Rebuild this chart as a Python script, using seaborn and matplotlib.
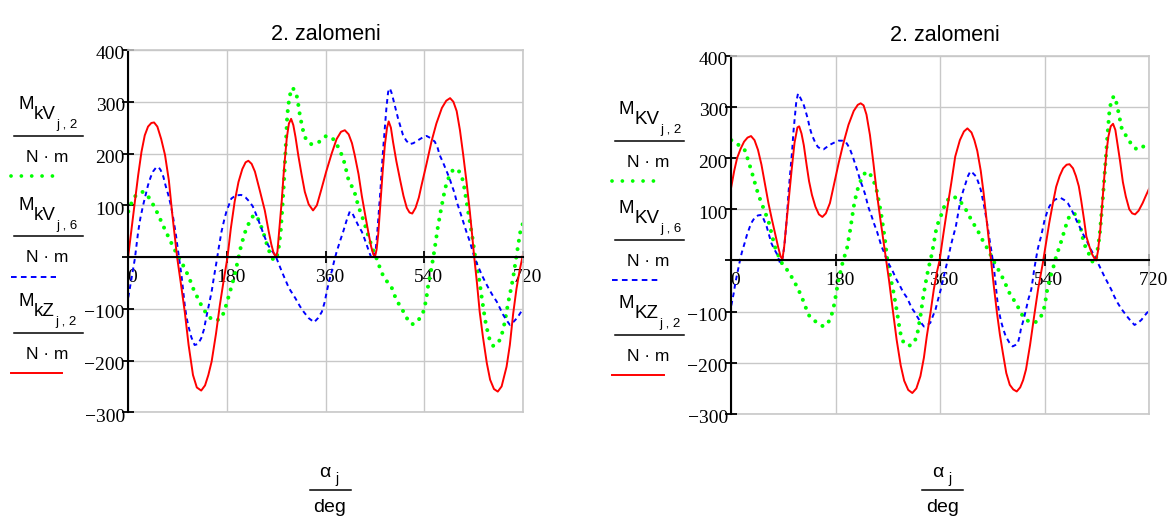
import matplotlib
matplotlib.use("Agg")
import matplotlib.pyplot as plt
import seaborn as sns
from matplotlib.lines import Line2D
from matplotlib.transforms import ScaledTranslation

# ---------------- data ----------------
TITLE = "2. zalomeni"
X_TICKS = [0, 180, 360, 540, 720]
X_TICK_LABELS = ["0", "180", "360", "540", "720"]
Y_TICKS = [-300, -200, -100, 0, 100, 200, 300, 400]
Y_TICK_LABELS = ["\u2212300", "\u2212200", "\u2212100", "", "100", "200", "300", "400"]

# left chart
L_GREEN_X = [0, 6, 12, 20, 27, 33, 39, 47, 55, 62, 70, 79, 88, 96, 103, 111, 118, 127, 136, 145, 154, 162, 170, 176, 182, 188, 194, 200, 206, 213, 221, 228, 233, 237, 242, 246, 250, 255, 260, 265, 270, 274, 278, 281, 284, 287, 290, 294, 299, 303, 307, 310, 313, 318, 322, 328, 334, 341, 349, 355, 361, 368, 376, 384, 392, 397, 401, 406, 412, 420, 430, 438, 446, 453, 462, 470, 479, 489, 499, 508, 517, 524, 529, 534, 538, 543, 547, 553, 559, 565, 571, 578, 584, 593, 598, 603, 607, 611, 617, 623, 628, 634, 639, 645, 651, 657, 661, 666, 672, 678, 684, 688, 693, 698, 702, 706, 710, 716, 720]
L_GREEN_Y = [88, 105, 117, 124, 126, 121, 113, 98, 81, 64, 46, 26, 7, -8, -22, -40, -60, -80, -99, -113, -122, -122, -118, -102, -80, -58, -35, -6, 23, 48, 68, 80, 81, 73, 60, 49, 34, 17, 3, -6, -4, 15, 49, 95, 145, 210, 275, 310, 327, 323, 313, 295, 274, 248, 232, 222, 218, 219, 223, 229, 234, 232, 226, 210, 191, 170, 152, 140, 128, 97, 68, 40, 15, -3, -30, -45, -55, -83, -100, -118, -130, -128, -122, -115, -106, -85, -55, -22, 17, 60, 95, 133, 152, 170, 170, 166, 158, 146, 107, 68, 36, -9, -35, -80, -122, -152, -165, -172, -168, -160, -140, -118, -88, -62, -40, -12, 15, 55, 65]

L_BLUE_X = [0, 6, 12, 18, 22, 27, 32, 36, 41, 45, 50, 55, 59, 64, 68, 73, 78, 82, 87, 91, 94, 97, 100, 103, 106, 109, 115, 121, 127, 133, 138, 142, 147, 152, 156, 161, 165, 170, 175, 179, 184, 188, 196, 206, 214, 221, 227, 231, 237, 243, 249, 255, 262, 268, 274, 280, 287, 293, 299, 305, 313, 320, 329, 339, 346, 353, 358, 362, 366, 371, 375, 380, 386, 392, 398, 404, 409, 413, 419, 426, 431, 435, 440, 444, 448, 451, 454, 457, 460, 462, 465, 468, 471, 474, 477, 480, 483, 488, 492, 497, 501, 507, 513, 520, 529, 537, 544, 551, 559, 564, 568, 574, 581, 586, 590, 595, 599, 605, 611, 617, 623, 628, 632, 638, 645, 651, 657, 664, 672, 678, 684, 690, 696, 702, 709, 714, 720]
L_BLUE_Y = [-78, -41, -3, 49, 75, 100, 122, 139, 155, 165, 172, 174, 168, 155, 138, 120, 98, 75, 42, 10, -12, -35, -65, -93, -115, -131, -155, -170, -168, -157, -140, -118, -93, -67, -40, -9, 18, 49, 72, 88, 102, 113, 119, 120, 115, 107, 98, 88, 72, 55, 38, 23, 12, 4, -12, -28, -45, -60, -70, -80, -95, -106, -118, -126, -118, -106, -88, -67, -48, -28, -10, 10, 30, 49, 70, 88, 84, 75, 62, 49, 35, 23, 8, -3, 0, 10, 45, 88, 130, 165, 210, 249, 290, 319, 326, 318, 306, 285, 268, 250, 236, 225, 218, 220, 226, 231, 234, 230, 223, 212, 197, 183, 165, 152, 139, 124, 107, 88, 68, 48, 30, 12, -3, -18, -35, -48, -60, -73, -86, -99, -112, -122, -131, -126, -118, -110, -100]

L_RED_X = [0, 6, 12, 18, 24, 30, 36, 42, 47, 53, 60, 67, 74, 80, 85, 89, 96, 103, 110, 118, 125, 133, 140, 146, 152, 160, 167, 174, 181, 187, 194, 201, 208, 214, 219, 225, 231, 240, 249, 256, 261, 265, 269, 272, 276, 280, 284, 289, 293, 297, 301, 305, 310, 316, 322, 329, 337, 344, 352, 361, 371, 380, 388, 395, 402, 408, 413, 420, 426, 432, 438, 443, 447, 450, 453, 456, 460, 464, 468, 472, 475, 479, 483, 489, 496, 502, 508, 513, 518, 524, 530, 535, 544, 553, 562, 572, 580, 587, 593, 599, 605, 611, 617, 623, 627, 631, 636, 641, 647, 654, 660, 667, 674, 681, 690, 696, 702, 708, 714, 720]
L_RED_Y = [3, 55, 107, 158, 203, 235, 252, 259, 260, 252, 228, 197, 148, 85, 38, 0, -52, -106, -170, -228, -252, -258, -248, -228, -202, -148, -93, -45, 0, 55, 107, 145, 170, 183, 186, 180, 165, 128, 90, 50, 24, 8, 0, 10, 60, 110, 170, 229, 258, 267, 255, 232, 197, 160, 126, 102, 90, 100, 130, 165, 200, 228, 242, 245, 237, 220, 197, 160, 118, 82, 47, 20, 5, 0, 15, 45, 105, 165, 216, 250, 262, 250, 222, 185, 148, 118, 95, 86, 84, 95, 115, 139, 180, 223, 258, 288, 302, 307, 300, 282, 245, 197, 145, 88, 45, 0, -50, -106, -155, -205, -237, -255, -260, -250, -212, -170, -110, -62, -25, 5]

# right chart
R_GREEN_X = [0, 6, 12, 18, 23, 29, 36, 41, 46, 52, 59, 65, 70, 75, 81, 87, 93, 98, 107, 113, 121, 127, 133, 139, 145, 152, 159, 165, 170, 174, 178, 181, 185, 189, 193, 199, 205, 211, 215, 219, 225, 230, 234, 240, 245, 251, 255, 259, 265, 269, 274, 280, 286, 291, 297, 303, 309, 315, 320, 326, 331, 337, 342, 346, 354, 363, 369, 376, 382, 388, 395, 404, 412, 418, 424, 433, 444, 455, 464, 473, 482, 491, 499, 508, 515, 522, 528, 534, 540, 545, 550, 554, 560, 567, 574, 580, 585, 591, 596, 600, 604, 607, 611, 616, 620, 624, 627, 630, 635, 640, 644, 648, 652, 656, 660, 663, 666, 670, 673, 678, 683, 688, 693, 698, 704, 709, 714, 720]
R_GREEN_Y = [235, 230, 226, 222, 216, 196, 170, 150, 131, 112, 92, 73, 50, 27, 10, -5, -14, -21, -38, -51, -70, -88, -106, -114, -119, -125, -129, -124, -116, -102, -83, -62, -38, -18, 1, 21, 60, 105, 127, 144, 161, 170, 174, 167, 157, 135, 112, 86, 40, 1, -31, -64, -103, -140, -161, -166, -166, -160, -148, -109, -70, -31, -5, 14, 66, 92, 112, 122, 125, 122, 115, 100, 83, 71, 60, 40, 18, -8, -25, -47, -70, -83, -103, -116, -120, -122, -118, -109, -90, -54, -32, -18, 8, 31, 57, 80, 90, 92, 85, 73, 55, 37, 25, 14, 3, -5, -2, 10, 50, 115, 178, 238, 295, 316, 321, 312, 297, 275, 258, 248, 239, 230, 222, 218, 217, 221, 228, 232]

R_BLUE_X = [0, 4, 7, 11, 14, 18, 23, 27, 32, 36, 40, 46, 52, 56, 61, 65, 69, 73, 78, 81, 84, 87, 89, 92, 95, 97, 99, 102, 105, 107, 110, 112, 115, 118, 121, 124, 128, 132, 135, 139, 144, 149, 154, 159, 164, 170, 177, 185, 191, 197, 201, 205, 209, 213, 218, 222, 227, 231, 236, 242, 246, 251, 255, 259, 264, 268, 272, 277, 281, 285, 290, 294, 298, 303, 307, 311, 316, 320, 326, 332, 337, 343, 347, 352, 356, 361, 365, 369, 374, 378, 382, 387, 391, 395, 400, 404, 408, 412, 416, 422, 426, 430, 433, 436, 439, 442, 445, 448, 450, 453, 456, 459, 462, 465, 469, 473, 479, 485, 490, 494, 497, 499, 504, 508, 512, 517, 520, 522, 525, 528, 531, 534, 537, 540, 544, 548, 552, 557, 562, 568, 574, 580, 586, 592, 597, 603, 607, 612, 616, 620, 626, 632, 637, 643, 649, 655, 660, 666, 672, 678, 684, 690, 695, 700, 707, 711, 716, 720]
R_BLUE_Y = [-88, -65, -44, -22, -5, 15, 34, 50, 66, 76, 83, 88, 89, 80, 66, 50, 34, 24, 14, 5, -5, 0, 8, 35, 73, 105, 138, 178, 216, 250, 287, 310, 326, 320, 313, 307, 292, 276, 260, 245, 232, 222, 218, 217, 221, 226, 230, 234, 234, 232, 225, 216, 204, 190, 173, 157, 142, 128, 105, 86, 72, 57, 42, 27, 14, 1, -8, -18, -28, -38, -48, -57, -65, -73, -83, -93, -101, -109, -120, -129, -127, -122, -110, -96, -78, -57, -38, -18, 5, 27, 45, 66, 92, 118, 137, 151, 165, 174, 171, 164, 152, 138, 122, 105, 86, 66, 42, 21, 5, -18, -50, -83, -103, -119, -135, -148, -160, -168, -165, -161, -148, -135, -115, -96, -76, -57, -35, -18, 2, 21, 35, 47, 63, 79, 93, 105, 112, 118, 121, 122, 118, 112, 100, 86, 73, 60, 50, 40, 30, 21, 8, -5, -17, -31, -44, -57, -70, -83, -94, -103, -112, -120, -126, -123, -116, -110, -103, -98]

R_RED_X = [0, 5, 10, 16, 22, 28, 34, 40, 46, 52, 58, 64, 70, 76, 81, 85, 88, 91, 95, 100, 104, 109, 114, 117, 121, 125, 130, 134, 139, 145, 151, 157, 163, 170, 177, 185, 193, 202, 211, 218, 223, 228, 233, 239, 245, 251, 257, 262, 267, 272, 277, 285, 292, 298, 305, 312, 319, 326, 332, 337, 343, 349, 354, 359, 366, 372, 379, 386, 394, 401, 407, 414, 419, 424, 430, 435, 441, 447, 452, 458, 463, 468, 474, 480, 486, 492, 498, 503, 508, 515, 522, 529, 537, 542, 548, 554, 560, 566, 572, 578, 583, 589, 594, 599, 603, 608, 612, 617, 622, 626, 629, 632, 636, 640, 643, 647, 650, 654, 658, 662, 665, 670, 675, 680, 686, 691, 696, 702, 709, 714, 720]
R_RED_Y = [144, 175, 200, 218, 232, 240, 243, 235, 216, 187, 150, 112, 80, 50, 25, 8, 2, 25, 73, 130, 177, 230, 260, 262, 248, 225, 185, 155, 128, 105, 90, 85, 92, 112, 148, 190, 228, 265, 292, 304, 307, 303, 285, 245, 190, 130, 80, 40, 0, -40, -85, -155, -205, -235, -253, -259, -250, -226, -190, -148, -105, -57, -25, 0, 55, 100, 150, 203, 235, 252, 258, 250, 235, 214, 175, 131, 70, 8, -45, -103, -145, -180, -220, -243, -252, -256, -248, -234, -213, -165, -109, -55, -5, 30, 73, 110, 144, 165, 180, 187, 188, 180, 165, 145, 118, 80, 47, 28, 12, 4, 0, 18, 60, 120, 164, 215, 242, 262, 267, 255, 232, 195, 153, 125, 100, 92, 90, 97, 112, 125, 140]

# ---------------- figure ----------------
W, H = 1168, 518
DPI = 100
SANS = ["Liberation Sans", "DejaVu Sans"]
SERIF = ["Liberation Serif", "DejaVu Serif"]
GREEN, BLUE, RED = "#00ff00", "#0000ff", "#ff0000"
GRID = "#c8c8c8"

plt.rcParams["font.family"] = SERIF
plt.rcParams["xtick.labelsize"] = 14
plt.rcParams["ytick.labelsize"] = 14

fig = plt.figure(figsize=(W / DPI, H / DPI), dpi=DPI)
fig.patch.set_facecolor("white")


def px_axes(x0, y0, x1, y1):
    return fig.add_axes([x0 / W, 1 - y1 / H, (x1 - x0) / W, (y1 - y0) / H])


def ptext(x, y, s, **kw):
    return fig.text(x / W, 1 - y / H, s, **kw)


def pline(x0, x1, y, **kw):
    fig.add_artist(Line2D([x0 / W, x1 / W], [1 - y / H, 1 - y / H],
                          transform=fig.transFigure, **kw))


GREEN_STYLE = dict(color=GREEN, lw=2.9, linestyle=(0, (0.01, 2.1)),
                   dash_capstyle="round")
BLUE_STYLE = dict(color=BLUE, lw=1.4, linestyle=(0, (2.4, 2.0)))
RED_STYLE = dict(color=RED, lw=1.4, linestyle="-")


def draw_chart(ax, gx, gy, bx, by, rx, ry):
    sns.lineplot(x=gx, y=gy, ax=ax, estimator=None, sort=False, **GREEN_STYLE)
    sns.lineplot(x=bx, y=by, ax=ax, estimator=None, sort=False, **BLUE_STYLE)
    sns.lineplot(x=rx, y=ry, ax=ax, estimator=None, sort=False, **RED_STYLE)
    ax.set_xlim(0, 720)
    ax.set_ylim(-300, 400)
    ax.set_xlabel("")
    ax.set_ylabel("")
    ax.set_xticks(X_TICKS)
    ax.set_xticklabels(X_TICK_LABELS)
    ax.set_yticks(Y_TICKS)
    ax.set_yticklabels(Y_TICK_LABELS)
    ax.grid(True, color=GRID, lw=1.0)
    ax.set_axisbelow(True)
    ax.axhline(-300, color=GRID, lw=1.2, clip_on=False, zorder=0.5)
    ax.spines["left"].set_color("black")
    ax.spines["left"].set_linewidth(1.5)
    ax.spines["bottom"].set_position(("data", 0))
    ax.spines["bottom"].set_color("black")
    ax.spines["bottom"].set_linewidth(1.5)
    ax.spines["bottom"].set_zorder(3)
    for s in ("top", "right"):
        ax.spines[s].set_color(GRID)
        ax.spines[s].set_linewidth(1.2)
    ax.tick_params(axis="x", direction="inout", length=9, width=1.3,
                   colors="black", pad=4.0)
    ax.tick_params(axis="y", direction="inout", length=8, width=1.3,
                   colors="black", pad=-1.5)


axL = px_axes(128.3, 50, 523, 412.3)
draw_chart(axL, L_GREEN_X, L_GREEN_Y, L_BLUE_X, L_BLUE_Y, L_RED_X, L_RED_Y)
axR = px_axes(731.3, 55.7, 1149, 414)
draw_chart(axR, R_GREEN_X, R_GREEN_Y, R_BLUE_X, R_BLUE_Y, R_RED_X, R_RED_Y)

# titles
ptext(325.5, 40, TITLE, ha="center", va="baseline", fontsize=15.5, family=SANS)
ptext(945, 41, TITLE, ha="center", va="baseline", fontsize=15.5, family=SANS)

renderer = fig.canvas.get_renderer()


def legend_block(x0, lf, sub, subsub, sample_len, style):
    t = ptext(x0, lf - 27, "M", fontsize=13.5, family=SANS, va="baseline")
    x1 = t.get_window_extent(renderer).x1
    t2 = ptext(x1, lf - 17, sub, fontsize=13.5, family=SANS, va="baseline")
    x2 = t2.get_window_extent(renderer).x1
    ptext(x2 + 0.5, lf - 8, subsub, fontsize=9.5, family=SANS, va="baseline")
    pline(x0 - 4.5, x0 + 64.5, lf, color="black", lw=1.1)
    ptext(x0 + 29.5, lf + 26, "N \u00b7 m", fontsize=12.5, family=SANS,
          ha="center", va="baseline")
    pline(x0 - 7, x0 - 7 + sample_len, lf + 40, **style)


LEG_GREEN = dict(GREEN_STYLE, lw=2.7, linestyle=(0, (0.01, 2.75)))
LEG_BLUE = dict(BLUE_STYLE, linestyle=(0, (2.9, 2.2)))

# left legend
legend_block(18, 136, "kV", "j , 2", 43, LEG_GREEN)
legend_block(18, 236.5, "kV", "j , 6", 45, LEG_BLUE)
legend_block(18, 333, "kZ", "j , 2", 51, RED_STYLE)
# right legend
legend_block(619, 140.7, "KV", "j , 2", 44, LEG_GREEN)
legend_block(619, 240, "KV", "j , 6", 46, LEG_BLUE)
legend_block(619, 335.3, "KZ", "j , 2", 52, RED_STYLE)


def xlabel_block(cx):
    ptext(cx - 10.5, 477, "\u03b1", fontsize=14, family=SANS, va="baseline")
    ptext(cx + 5.5, 483, "j", fontsize=10, family=SANS, va="baseline")
    pline(cx - 20.5, cx + 20.5, 490, color="black", lw=1.1)
    ptext(cx, 512, "deg", fontsize=14, family=SANS, ha="center", va="baseline")


xlabel_block(330)
xlabel_block(942.5)

# small offsets of the tick labels (as in the reference)
for ax in (axL, axR):
    for lab in ax.get_xticklabels():
        lab.set_transform(lab.get_transform()
                          + ScaledTranslation(0.04, 0, fig.dpi_scale_trans))
    for lab in ax.get_yticklabels():
        lab.set_transform(lab.get_transform()
                          + ScaledTranslation(0, -0.03, fig.dpi_scale_trans))

fig.savefig("out.png", dpi=DPI, facecolor="white")
